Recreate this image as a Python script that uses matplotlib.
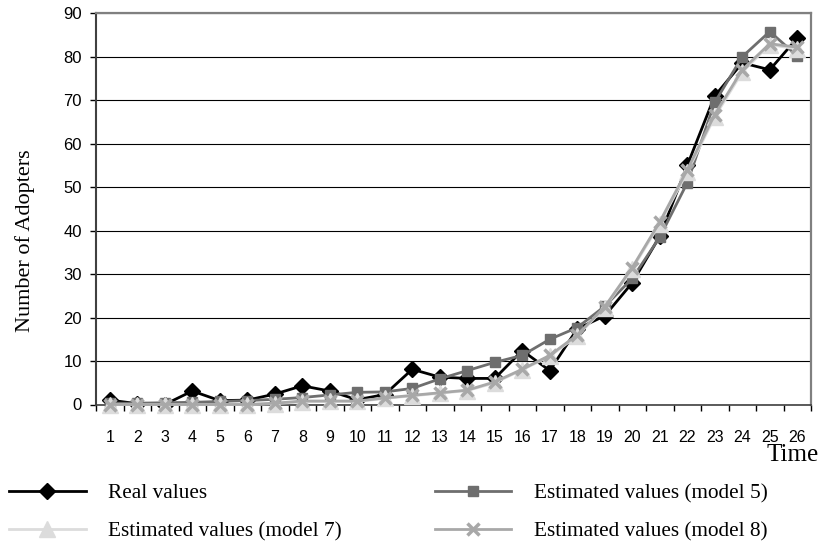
import numpy as np
import matplotlib
matplotlib.use("Agg")
from matplotlib import pyplot as plt
from matplotlib.ticker import FixedLocator

# adopters per period
time = np.arange(1, 27)
real_values = [1, 0.2, 0, 3.1, 0.9, 1, 2.4, 4.3, 3.1, 1.1, 2.3, 8.1,
               6.3, 6, 6, 12.4, 7.8, 17.4, 20.4, 28, 38.7, 55, 71, 78.6, 77, 84.3]
model5 = [0.3, 0.3, 0.4, 0.5, 0.7, 0.9, 1.2, 1.6, 2.2, 2.8, 2.9, 3.7,
          5.9, 7.8, 9.7, 11.3, 15, 17.7, 22.6, 29, 38.5, 51, 69.5, 80, 85.8, 80.2]
model7 = [0, 0, 0, 0, 0, 0, 0.2, 0.6, 0.7, 0.7, 1.4, 2.0,
          2.6, 3.2, 5.0, 8.0, 11.1, 15.8, 22.3, 31.2, 41.6, 53.5, 66.2, 76.5, 82.8, 81.8]
model8 = [0, 0, 0, 0, 0, 0, 0.3, 0.8, 0.8, 0.8, 1.5, 2.1,
          2.7, 3.3, 5.2, 8.1, 11.3, 16, 22.5, 31.5, 42, 54, 66.7, 77, 83, 82.2]

fig = plt.figure(figsize=(8.22, 5.46), dpi=100)
ax = fig.add_axes([96/822, 1-404.5/546, 715/822, (404.5-13.3)/546])

l_real, = ax.plot(time, real_values, color="black", lw=2, marker="D", ms=8,
                  clip_on=False, zorder=3)
l_m5, = ax.plot(time, model5, color="#6e6e6e", lw=2, marker="s", ms=7,
                clip_on=False, zorder=3)
l_m7, = ax.plot(time, model7, color="#dcdcdc", lw=2, marker="^", ms=11,
                clip_on=False, zorder=3)
l_m8, = ax.plot(time, model8, color="#a8a8a8", lw=2, marker="x", ms=9, mew=2.5,
                clip_on=False, zorder=3)

ax.set_xlim(0.5, 26.5)
ax.set_ylim(0, 90)
ax.set_yticks(np.arange(0, 91, 10))
ax.set_xticks(time)
ax.xaxis.set_minor_locator(FixedLocator(np.arange(0.5, 27, 1)))
ax.tick_params(axis="x", which="major", length=0, pad=18, labelsize=11.5)
ax.tick_params(axis="x", which="minor", length=4, width=1, direction="out")
ax.tick_params(axis="y", length=4, width=1, pad=6, labelsize=12)
for lab in ax.get_xticklabels() + ax.get_yticklabels():
    lab.set_fontfamily("Liberation Sans")

ax.grid(axis="y", color="black", lw=0.8)
ax.set_axisbelow(True)
for side in ["top", "right"]:
    ax.spines[side].set_color("#808080")
    ax.spines[side].set_linewidth(1.6)
ax.spines["left"].set_color("#404040")
ax.spines["left"].set_linewidth(1.5)
ax.spines["bottom"].set_color("#404040")
ax.spines["bottom"].set_linewidth(1.2)

fig.text(25/822, 1-241/546, "Number of Adopters", rotation=90, ha="center",
         va="center", fontsize=16, family="Liberation Serif")
fig.text(819/822, 1-455/546, "Time", ha="right", va="center", fontsize=18,
         family="Liberation Serif")

fig.legend([l_real, l_m7, l_m5, l_m8],
           ["Real values", "Estimated values (model 7)",
            "Estimated values (model 5)", "Estimated values (model 8)"],
           ncol=2, loc="center left", bbox_to_anchor=(9/822, 1-512.5/546),
           frameon=False, borderpad=0, borderaxespad=0, handlelength=3.6,
           handletextpad=1.05, columnspacing=4.4, labelspacing=0.85,
           prop={"family": "Liberation Serif", "size": 15.3})

fig.savefig("out.png", dpi=100)
